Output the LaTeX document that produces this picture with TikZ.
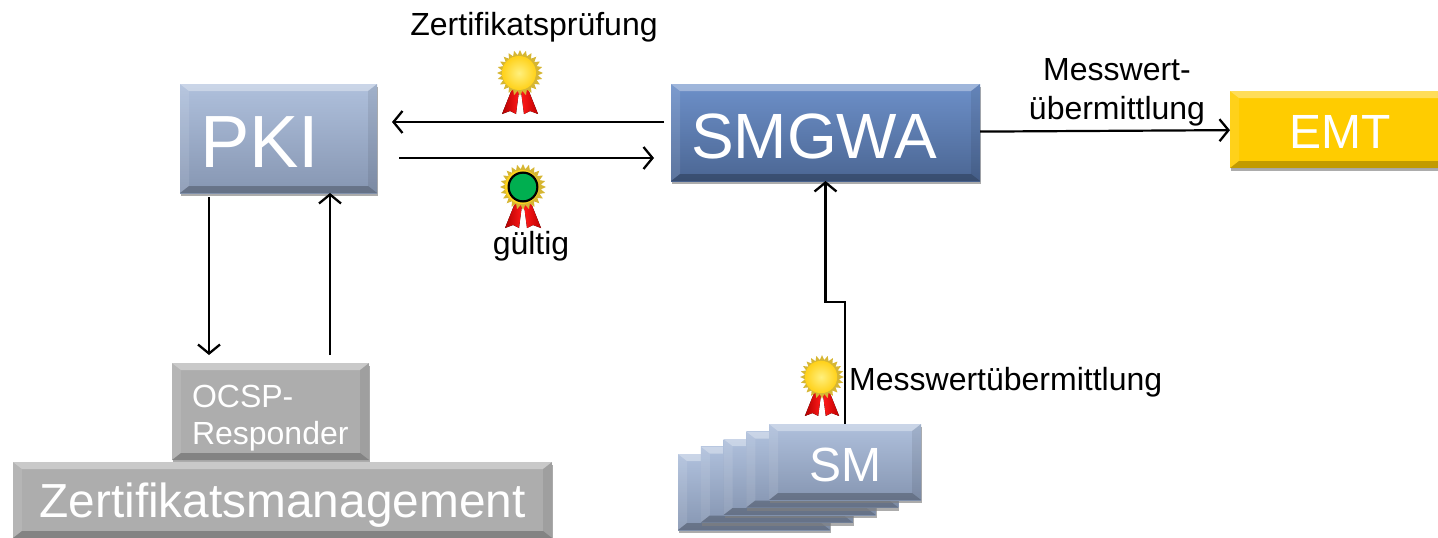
\documentclass[tikz,border=0pt]{standalone}
\usepackage{fontspec}
\setmainfont{Liberation Sans}
\usetikzlibrary{positioning,shadows,arrows.meta}
\definecolor{pkitop}{HTML}{AFC0DC}
\definecolor{pkibot}{HTML}{8696B2}
\definecolor{gwtop}{HTML}{6D90C9}
\definecolor{gwbot}{HTML}{4B6693}
\definecolor{gold}{HTML}{FFCC00}
\definecolor{boxgray}{HTML}{ADADAD}

\begin{document}
\begin{tikzpicture}[x=1pt, y=-1pt,
        label/.style={inner sep=0pt, text=black, font=\fontsize{32}{39}\selectfont, align=center},
        medal/.pic={
            \fill[left color=red!70!black, right color=red!90!white] (-8,16) -- (-18,41) -- (-10,38) -- (-4,41) -- (-1,18) -- cycle;
            \fill[left color=red!90!white, right color=red!75!black] (8,16) -- (18,41) -- (10,38) -- (4,41) -- (1,18) -- cycle;
            \fill[gold!80!black!80!white] (0:23) \foreach \a in {0,15,...,345} {-- (\a:23) -- (\a+7.5:18)} -- cycle;
            \shade[inner color=yellow!30!white!70!gold, outer color=gold!90!white] (-1,0) circle (17);
        },
        okmedal/.pic={
            \pic {medal};
            \draw[line width=2.2pt, fill={rgb:red,0;green,176;blue,80}] (0,0) circle (18);
        }
    ]

    %styles
    \tikzstyle{bevel}=[path picture={
        \coordinate (nw) at (path picture bounding box.north west);
        \coordinate (ne) at (path picture bounding box.north east);
        \coordinate (sw) at (path picture bounding box.south west);
        \coordinate (se) at (path picture bounding box.south east);
        \fill[white, opacity=.35] (nw) -- (ne) -- ([shift={(-9pt,-7pt)}]ne) -- ([shift={(9pt,-7pt)}]nw) -- cycle;
        \fill[white, opacity=.10] (nw) -- (sw) -- ([shift={(9pt,7pt)}]sw) -- ([shift={(9pt,-7pt)}]nw) -- cycle;
        \fill[black, opacity=.08] (ne) -- (se) -- ([shift={(-9pt,7pt)}]se) -- ([shift={(-9pt,-7pt)}]ne) -- cycle;
        \fill[black, opacity=.24] (sw) -- (se) -- ([shift={(-9pt,7pt)}]se) -- ([shift={(9pt,7pt)}]sw) -- cycle;
    }]
    \tikzstyle{box}=[rectangle, bevel, inner sep=0pt, outer sep=0pt, text=white, align=center,
        drop shadow={shadow xshift=1pt, shadow yshift=-3pt, opacity=.65}]
    \tikzstyle{lefttext}=[align=left, inner xsep=20pt, text width=#1]
    \tikzstyle{PKIbox}=[box, lefttext=157pt, minimum height=109pt, text height=58pt, text depth=0pt, top color=pkitop, bottom color=pkibot, font=\fontsize{74}{80}\selectfont]
    \tikzstyle{GWbox}=[box, lefttext=269pt, minimum height=97pt, text height=52pt, text depth=0pt, top color=gwtop, bottom color=gwbot, font=\fontsize{64}{70}\selectfont]
    \tikzstyle{EMTbox}=[box, minimum width=220pt, minimum height=77pt, text height=38.4pt, text depth=0pt, fill=gold, font=\fontsize{48}{52}\selectfont]
    \tikzstyle{OCSPbox}=[box, lefttext=157pt, minimum height=97pt, text height=35pt, fill=boxgray, font=\fontsize{32}{37}\selectfont]
    \tikzstyle{ZMbox}=[box, minimum width=539pt, minimum height=76pt, text height=45pt, text depth=10pt, fill=boxgray, font=\fontsize{47.8}{52}\selectfont]
    \tikzstyle{SMbox}=[box, anchor=north west, minimum width=152pt, minimum height=76pt, text height=38.4pt, text depth=0pt, top color=pkitop, bottom color=pkibot, font=\fontsize{48}{52}\selectfont]
    \tikzstyle{commu}=[-{Straight Barb[length=9pt, width=22pt, line width=2.3pt]}, line width=2.2pt, black]

    \useasboundingbox (0,0) rectangle (1438,538);

    %nodes
    \node[PKIbox, anchor=north west] (pki) at (180,84) {PKI};
    \node[GWbox, below right=0pt and 294pt of pki.north east] (smgwa) {SMGWA};
    \node[EMTbox, below right=7pt and 250pt of smgwa.north east] (emt) {EMT};
    \node[OCSPbox, below=170pt of pki, xshift=-8pt] (ocsp) {OCSP-\\Responder};
    \node[ZMbox, below=2pt of ocsp, xshift=12pt] (zm) {Zertifikatsmanagement};

    \foreach \n in {4,3,2,1} {
        \node[SMbox] (sm\n) at ({769-22.75*\n}, {424+7.5*\n}) {};
    }
    \node[SMbox] (sm) at (769,424) {SM};

    \coordinate (bend) at (825.5,302);

    %labels
    \node[label] (pruefung) at (534,27) {Zertifikatspr\"ufung};
    \node[label] (gueltig) at (531,246) {g\"ultig};
    \node[label] (uebermittlung) at (1117,92.5) {Messwert-\\[0pt]\"ubermittlung};
    \node[label, anchor=west] (messwert) at (849,382) {Messwert\"ubermittlung};

    %medals
    \pic at (520,73) {medal};
    \pic[scale=.8] at (523,187) {okmedal};
    \pic[scale=.95] at (822,377) {medal};

    %arrows
    \draw[commu] ([shift={(-7pt,10.5pt)}]smgwa.west) -- ([shift={(15pt,16.5pt)}]pki.east);
    \draw[commu] ([shift={(22pt,-19.5pt)}]pki.east) -- ([shift={(-17pt,-25.5pt)}]smgwa.west);
    \draw[commu] (smgwa) -- (emt);
    \draw[commu] ([shift={(-69.5pt,-4pt)}]pki.south) -- ([shift={(-61.5pt,8pt)}]ocsp.north);
    \draw[commu] ([shift={(59.5pt,8pt)}]ocsp.north) -- ([xshift=51.5pt]pki.south);
    \draw[commu] (sm.north) |- (bend) -- (smgwa.south);

\end{tikzpicture}
\end{document}
